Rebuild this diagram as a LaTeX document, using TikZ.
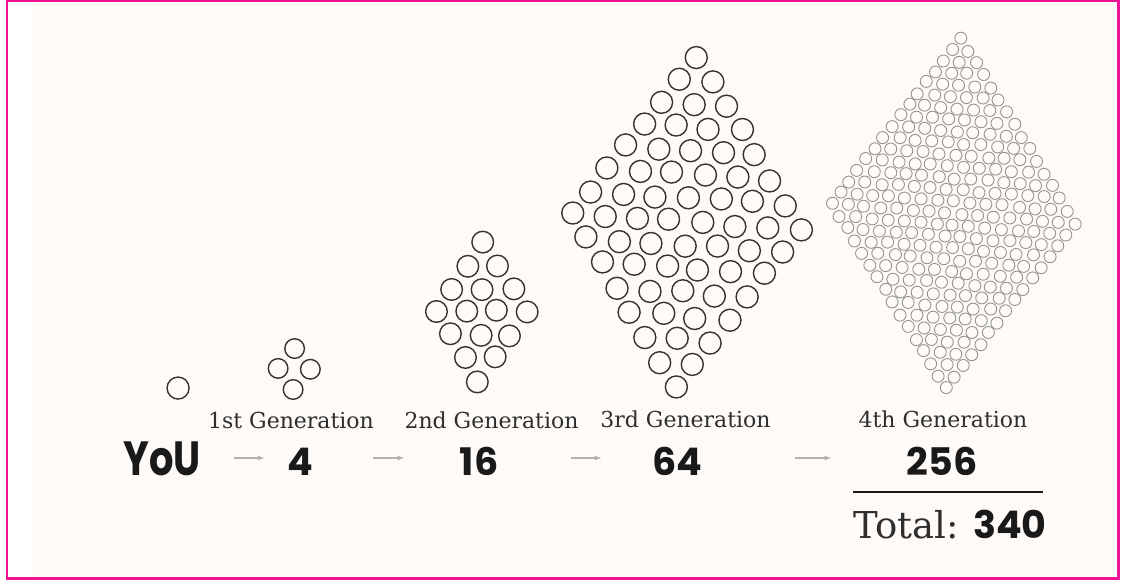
\documentclass[tikz,border=0pt]{standalone}
\usepackage{fontspec}
\usetikzlibrary{arrows.meta}
\setmainfont{DejaVu Serif}
\newfontfamily\handfont{Poppins}
\definecolor{pagepink}{RGB}{238,18,148}
\definecolor{paper}{RGB}{253,250,247}
\colorlet{ringcol}{black!80}
\colorlet{faintcol}{black!42}
\colorlet{labelcol}{black!82}
\colorlet{flowcol}{black!30}
\tikzset{>={Latex[length=7pt,width=5pt]},
  ring/.style={draw=ringcol, line width=1.4},
  tinyring/.style={draw=faintcol, line width=0.9},
  genlabel/.style={font=\fontsize{22}{24}\selectfont, text=labelcol, inner sep=0pt, anchor=base},
  tally/.style={font=\handfont\bfseries\fontsize{38}{40}\selectfont, text=black!90, inner sep=0pt,
    anchor=base, text height=34pt, text depth=0pt},
  flow/.style={->, draw=flowcol, line width=1.2}}

% style, n, top x, top y, u x, u y, v x, v y, radius
\newcommand{\ancestors}[9]{%
  \pgfmathtruncatemacro\lastrow{#2-1}
  \foreach \i in {0,...,\lastrow}
    \foreach \j in {0,...,\lastrow}{
      \pgfmathsetmacro\jx{0.15*#9*rand}
      \pgfmathsetmacro\jy{0.15*#9*rand}
      \draw[#1] ({#3+\i*(#5)+\j*(#7)+\jx},{#4+\i*(#6)+\j*(#8)+\jy}) circle[radius=#9];
    }%
}

\begin{document}
\begin{tikzpicture}[x=1pt,y=-1pt]
\useasboundingbox (0,0) rectangle (1121,581);
\fill[white] (0,0) rectangle (1121,581);
\fill[paper] (32,2) rectangle (1117,577);
\draw[pagepink, line width=2.6] (7,0.9) rectangle (1118.6,578.6);

\pgfmathsetseed{11}
\ancestors{ring}{1}{177}{388}{0}{0}{0}{0}{11}
\ancestors{ring}{2}{294}{349}{16}{21}{-16}{20}{9.8}
\ancestors{ring}{4}{483.3}{241.7}{14.5}{23.3}{-16.1}{23.3}{10.8}
\ancestors{ring}{8}{696.7}{56.7}{14.76}{24.76}{-17.86}{22.37}{11}
\ancestors{tinyring}{16}{960.7}{38.3}{7.62}{12.33}{-8.6}{11}{6}

\node[genlabel] (gen1) at (291,428) {1st Generation};
\node[genlabel] (gen2) at (491.5,428) {2nd Generation};
\node[genlabel] (gen3) at (685.5,427) {3rd Generation};
\node[genlabel] (gen4) at (943,427) {4th Generation};

\node[tally, font=\handfont\bfseries\fontsize{48}{50}\selectfont] (you) at (162,475) {\scalebox{0.8}[1]{YoU}};
\node[tally] (n4) at (300,475) {4};
\node[tally] (n16) at (479,475) {16};
\node[tally] (n64) at (677,475) {64};
\node[tally] (n256) at (942,475) {256};

\draw[flow, shorten <=33pt, shorten >=22pt] (you) -- (n4);
\draw[flow, shorten <=60pt, shorten >=55pt] (n4) -- (n16);
\draw[flow, shorten <=73pt, shorten >=50pt] (n16) -- (n64);
\draw[flow, shorten <=93pt, shorten >=75pt] (n64) -- (n256);

\draw[line width=2.6, black!90] (853,492) -- (1043,492);
\node[anchor=base west, font=\fontsize{37}{40}\selectfont, text=labelcol, inner sep=0pt] (total) at (853,538) {Total:};
\node[tally, anchor=base west] (sum) at (973,538) {340};
\end{tikzpicture}
\end{document}
